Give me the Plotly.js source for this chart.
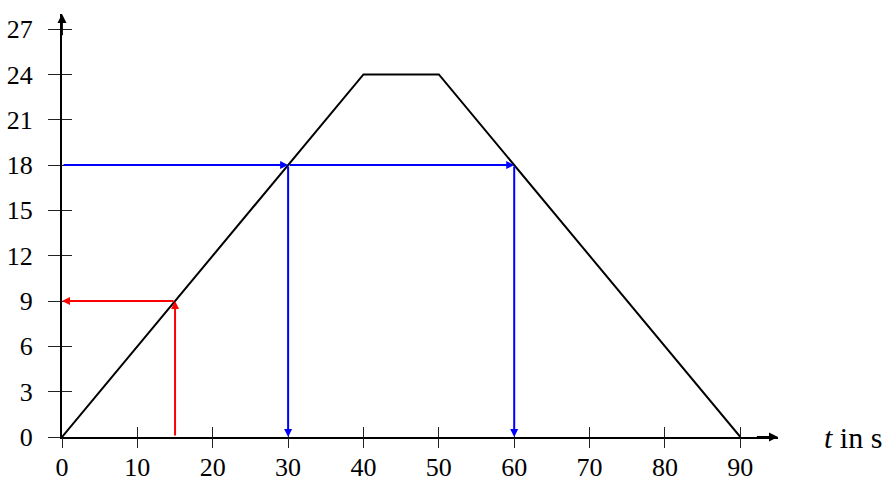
<!DOCTYPE html>
<html>
<head>
<meta charset="utf-8">
<script src="https://cdn.plot.ly/plotly-3.0.1.min.js"></script>
<style>
  html, body { margin: 0; padding: 0; background: #fff; }
  #chart { width: 889px; height: 482px; }
</style>
</head>
<body>
<div id="chart"></div>
<script>
// Distance–time profile: accelerate, cruise, decelerate
const timeS = [0, 40, 50, 90];
const distance = [0, 24, 24, 0];

// Reading the graph: red goes from a time to a distance,
// blue goes from a distance to the times where it is reached
const redTime = 15;
const redDist = 9;
const blueDist = 18;
const blueTimes = [30, 60];

// Axis ticks and extents
const xTicks = [0, 10, 20, 30, 40, 50, 60, 70, 80, 90];
const yTicks = [0, 3, 6, 9, 12, 15, 18, 21, 24, 27];
const xMax = 95;
const yMax = 28;
const xLabelAt = 100.9;

const FONT = "'Liberation Serif', 'DejaVu Serif', serif";
const RED = '#ff0000';
const BLUE = '#0000ff';

function arrow(x0, y0, x1, y1, color, width, head, size) {
  return {
    x: x1, y: y1, ax: x0, ay: y0,
    xref: 'x', yref: 'y', axref: 'x', ayref: 'y',
    text: '', showarrow: true,
    arrowhead: head, arrowsize: size, arrowwidth: width,
    arrowcolor: color, standoff: 0, startstandoff: 0
  };
}

const annotations = [];
// axis arrowheads
annotations.push(arrow(xMax - 3, 0, xMax, 0, '#000', 1.8, 2, 1));
annotations.push(arrow(0, yMax - 1.5, 0, yMax, '#000', 1.8, 2, 1));

// red reading: up from the time, then left to the distance axis
annotations.push(arrow(redTime, 0, redTime, redDist, RED, 2, 2, 0.8));
annotations.push(arrow(redTime, redDist, 0, redDist, RED, 2, 2, 0.8));

// blue reading: across to each crossing, then down to the time axis
let prevT = 0;
blueTimes.forEach(function (t) {
  annotations.push(arrow(prevT, blueDist, t, blueDist, BLUE, 2, 2, 0.8));
  annotations.push(arrow(t, blueDist, t, 0, BLUE, 2, 2, 0.8));
  prevT = t;
});

// axis label, placed past the end of the time axis
annotations.push({
  x: xLabelAt / xMax, y: 0, xref: 'paper', yref: 'paper',
  text: '<i>t</i> in s', showarrow: false,
  xanchor: 'left', yanchor: 'middle',
  font: { family: FONT, size: 30, color: '#000' }
});

const traces = [
  {
    x: timeS, y: distance, type: 'scatter', mode: 'lines',
    line: { color: '#000', width: 2 },
    cliponaxis: false, hoverinfo: 'skip', showlegend: false
  },
  {
    // carriers for the overlaid tick axes
    x: [0], y: [0], xaxis: 'x2', yaxis: 'y2', type: 'scatter', mode: 'markers',
    marker: { opacity: 0 }, hoverinfo: 'skip', showlegend: false
  },
  {
    x: [0], y: [0], xaxis: 'x3', yaxis: 'y', type: 'scatter', mode: 'markers',
    marker: { opacity: 0 }, hoverinfo: 'skip', showlegend: false
  }
];

const tickFont = { family: FONT, size: 26, color: '#000' };
const tickLine = { tickwidth: 1, tickcolor: '#222' };

const layout = {
  width: 889, height: 482,
  margin: { l: 62, r: 889 - 62 - 715.7, t: 13.5, b: 45 },
  paper_bgcolor: '#fff', plot_bgcolor: '#fff',
  showlegend: false,
  xaxis: {
    range: [0, xMax], showgrid: false, zeroline: false,
    showline: true, linecolor: '#000', linewidth: 2,
    tickmode: 'array', tickvals: xTicks, ticktext: xTicks.map(String),
    ticks: '', ticklabelstandoff: 6,
    tickfont: tickFont, fixedrange: true
  },
  yaxis: {
    range: [0, yMax], showgrid: false, zeroline: false,
    showline: true, linecolor: '#000', linewidth: 2,
    tickmode: 'array', tickvals: yTicks, ticktext: yTicks.map(String),
    ticks: 'outside', ticklen: 12, ...tickLine,
    ticklabelstandoff: 10,
    tickfont: tickFont, fixedrange: true
  },
  xaxis2: {
    overlaying: 'x', anchor: 'y', side: 'bottom', range: [0, xMax],
    showgrid: false, zeroline: false, showline: false, showticklabels: false,
    tickmode: 'array', tickvals: xTicks,
    ticks: 'inside', ticklen: 10, ...tickLine, fixedrange: true
  },
  xaxis3: {
    overlaying: 'x', anchor: 'y', side: 'bottom', range: [0, xMax],
    showgrid: false, zeroline: false, showline: false, showticklabels: false,
    tickmode: 'array', tickvals: xTicks,
    ticks: 'outside', ticklen: 10, ...tickLine, fixedrange: true
  },
  yaxis2: {
    overlaying: 'y', anchor: 'x', side: 'left', range: [0, yMax],
    showgrid: false, zeroline: false, showline: false, showticklabels: false,
    tickmode: 'array', tickvals: yTicks,
    ticks: 'inside', ticklen: 10, ...tickLine, fixedrange: true
  },
  annotations: annotations
};

Plotly.newPlot('chart', traces, layout, { staticPlot: true, displayModeBar: false });
</script>
</body>
</html>
